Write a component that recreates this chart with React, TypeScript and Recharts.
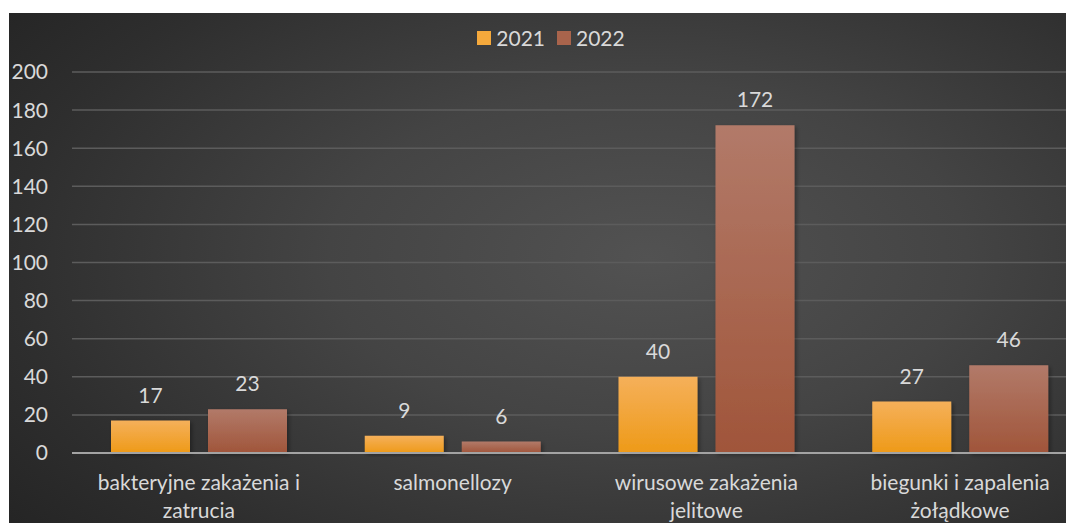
import React from "react";
import { BarChart, Bar, XAxis, YAxis, CartesianGrid, Legend, LabelList } from "recharts";

const categories = [
  "bakteryjne zakażenia i zatrucia",
  "salmonellozy",
  "wirusowe zakażenia jelitowe",
  "biegunki i zapalenia żołądkowe",
];
const values2021 = [17, 9, 40, 27];
const values2022 = [23, 6, 172, 46];
const yTicks = [0, 20, 40, 60, 80, 100, 120, 140, 160, 180, 200];

const data = categories.map((name, i) => ({
  name,
  y2021: values2021[i],
  y2022: values2022[i],
}));

const FONT = "Lato, 'Open Sans', sans-serif";
const TEXT = "#d9d9d9";
const FS = 21;

// wrap a label into lines of at most 22 characters
function wrap(label: string, max = 22) {
  const words = label.split(" ");
  const lines: string[] = [];
  let cur = "";
  for (const w of words) {
    const next = cur ? cur + " " + w : w;
    if (next.length > max && cur) {
      lines.push(cur);
      cur = w;
    } else cur = next;
  }
  if (cur) lines.push(cur);
  return lines;
}

const CategoryTick = (props: any) => {
  const { x, y, payload } = props;
  const lines = wrap(payload.value);
  return (
    <text x={x} y={y} textAnchor="middle" fill={TEXT} fontSize={FS} fontFamily={FONT}>
      {lines.map((l, i) => (
        <tspan key={i} x={x} dy={i === 0 ? 37 : 28}>
          {l}
        </tspan>
      ))}
    </text>
  );
};

const LegendContent = () => (
  <div
    style={{
      display: "flex",
      justifyContent: "center",
      alignItems: "center",
      gap: 12,
      fontFamily: FONT,
      fontSize: FS,
      color: TEXT,
      paddingLeft: 6,
      lineHeight: "24px",
    }}
  >
    {[
      { label: "2021", color: "#f5a93c" },
      { label: "2022", color: "#a9644c" },
    ].map((it) => (
      <div key={it.label} style={{ display: "flex", alignItems: "center", gap: 5 }}>
        <span style={{ width: 14, height: 14, background: it.color, display: "inline-block" }} />
        <span>{it.label}</span>
      </div>
    ))}
  </div>
);

export default function App() {
  return (
    <div
      style={{
        marginTop: 5,
        marginLeft: 1,
        width: 1065,
        height: 510,
        overflow: "hidden",
        background:
          "radial-gradient(ellipse 75% 85% at 60% 48%, #525252 0%, #444444 40%, #2e2e2e 80%, #252525 100%)",
      }}
    >
      <BarChart
        width={1078}
        height={510}
        data={data}
        margin={{ top: 59, right: 0, bottom: 0, left: 0 }}
        barSize={79}
        barGap={18}
      >
        <defs>
          <linearGradient id="g2021" x1="0" y1="0" x2="0" y2="1">
            <stop offset="0%" stopColor="#f5b05a" />
            <stop offset="100%" stopColor="#ee9a18" />
          </linearGradient>
          <linearGradient id="g2022" x1="0" y1="0" x2="0" y2="1">
            <stop offset="0%" stopColor="#b27a69" />
            <stop offset="100%" stopColor="#a0553a" />
          </linearGradient>
          <filter id="shadow" x="-10%" y="-10%" width="130%" height="130%">
            <feDropShadow dx="2" dy="2" stdDeviation="2" floodColor="#000" floodOpacity="0.35" />
          </filter>
        </defs>
        <CartesianGrid vertical={false} stroke="#5c5c5c" strokeWidth={1.5} />
        <XAxis
          dataKey="name"
          height={70}
          tickLine={false}
          tickSize={0}
          tickMargin={0}
          axisLine={{ stroke: "#a3a3a3", strokeWidth: 2 }}
          tick={<CategoryTick />}
          interval={0}
        />
        <YAxis
          width={63}
          domain={[0, 200]}
          ticks={yTicks}
          axisLine={false}
          tickLine={false}
          tickSize={0}
          tickMargin={24}
          tick={{ fill: TEXT, fontSize: FS, fontFamily: FONT }}
        />
        <Legend
          verticalAlign="middle"
          align="center"
          content={<LegendContent />}
          wrapperStyle={{ top: 13, left: 0, width: 1078 }}
        />
        <Bar dataKey="y2021" name="2021" fill="url(#g2021)" filter="url(#shadow)" isAnimationActive={false}>
          <LabelList dataKey="y2021" position="top" offset={18} fill={TEXT} fontSize={FS} fontFamily={FONT} />
        </Bar>
        <Bar dataKey="y2022" name="2022" fill="url(#g2022)" filter="url(#shadow)" isAnimationActive={false}>
          <LabelList dataKey="y2022" position="top" offset={18} fill={TEXT} fontSize={FS} fontFamily={FONT} />
        </Bar>
      </BarChart>
    </div>
  );
}
